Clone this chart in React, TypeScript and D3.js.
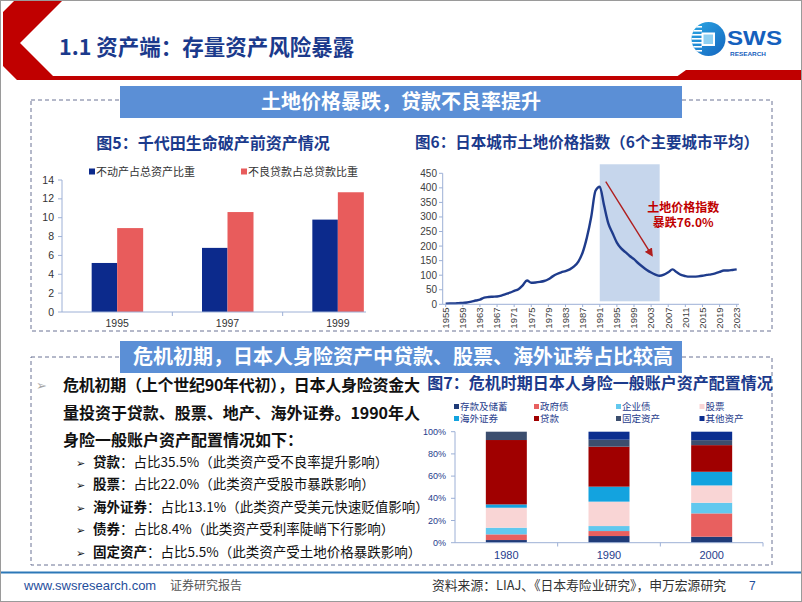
import React from 'react';
import * as d3 from 'd3';

const LAT = "'Liberation Sans', Arial, 'Noto Sans CJK SC', sans-serif";
const CJK = "'Noto Sans CJK SC', 'Liberation Sans', sans-serif";
const TITLE_BLUE = '#1B3A8C';
const AXIS = '#9DB0D6';
const DASH = '#6B7394';

// ---------- header texts ----------
const headerTitle = '1.1 资产端：存量资产风险暴露';
const banner1 = '土地价格暴跌，贷款不良率提升';
const banner2 = '危机初期，日本人身险资产中贷款、股票、海外证券占比较高';

// ---------- chart 5 ----------
const c5Title = '图5：千代田生命破产前资产情况';
const c5Years = ['1995', '1997', '1999'];
const c5RealEstate = [5.2, 6.8, 9.8];
const c5NPL = [8.9, 10.6, 12.7];
const c5Ticks = [0, 2, 4, 6, 8, 10, 12, 14];
const c5Names = ['不动产占总资产比重', '不良贷款占总贷款比重'];
const c5Colors = ['#0C2A8C', '#E85C5C'];

// ---------- chart 6 ----------
const c6Title = '图6：日本城市土地价格指数（6个主要城市平均）';
const c6Years = [
  1955, 1956, 1957, 1958, 1959, 1960, 1961, 1962, 1963, 1964,
  1965, 1966, 1967, 1968, 1969, 1970, 1971, 1972, 1973, 1974,
  1975, 1976, 1977, 1978, 1979, 1980, 1981, 1982, 1983, 1984,
  1985, 1986, 1987, 1988, 1989, 1990, 1991, 1992, 1993, 1994,
  1995, 1996, 1997, 1998, 1999, 2000, 2001, 2002, 2003, 2004,
  2005, 2006, 2007, 2008, 2009, 2010, 2011, 2012, 2013, 2014,
  2015, 2016, 2017, 2018, 2019, 2020, 2021, 2022, 2023,
];
const c6Index = [
  2, 3, 3, 4, 5, 6, 9, 13, 16, 23,
  25, 26, 27, 30, 35, 40, 46, 52, 65, 82,
  74, 75, 77, 80, 86, 96, 104, 110, 114, 120,
  130, 147, 178, 230, 300, 390, 404, 340, 278, 244,
  212, 192, 179, 166, 155, 141, 129, 118, 109, 102,
  98, 102, 110, 120, 110, 101, 97, 95, 95, 96,
  98, 101, 103, 106, 111, 116, 116, 118, 120,
];
const c6YTicks = [0, 50, 100, 150, 200, 250, 300, 350, 400, 450];
const c6LabelYears = [1955, 1959, 1963, 1967, 1971, 1975, 1979, 1983, 1987, 1991, 1995, 1999, 2003, 2007, 2011, 2015, 2019, 2023];
const c6Shade = [1991, 2005];
const c6Note = ['土地价格指数', '暴跌76.0%'];

// ---------- chart 7 ----------
const c7Title = '图7：危机时期日本人身险一般账户资产配置情况';
const c7Years = ['1980', '1990', '2000'];
const c7Keys = ['存款及储蓄', '政府债', '企业债', '股票', '海外证券', '贷款', '固定资产', '其他资产'];
const c7Deposit = [2.4, 6.0, 5.4];
const c7GovBond = [5.1, 4.5, 21.0];
const c7CorpBond = [6.0, 4.5, 9.6];
const c7Stock = [18.0, 22.0, 15.6];
const c7Foreign = [3.0, 13.5, 12.3];
const c7Loan = [58.0, 36.0, 24.0];
const c7Fixed = [7.5, 6.3, 4.5];
const c7Other = [0, 7.2, 7.6];
const c7Colors = ['#1F3B78', '#E8605F', '#62C8EE', '#F9D5D5', '#13A3DF', '#A00000', '#3C4E6E', '#0B2E8F'];
const c7Ticks = [0, 20, 40, 60, 80, 100];
const c7TickLabels = ['0%', '20%', '40%', '60%', '80%', '100%'];

// ---------- left text ----------
const introLines = [
  '危机初期（上个世纪90年代初），日本人身险资金大',
  '量投资于贷款、股票、地产、海外证券。1990年人',
  '身险一般账户资产配置情况如下：',
];
const subLabels = ['贷款', '股票', '海外证券', '债券', '固定资产'];
const subTexts = [
  '：占比35.5%（此类资产受不良率提升影响）',
  '：占比22.0%（此类资产受股市暴跌影响）',
  '：占比13.1%（此类资产受美元快速贬值影响）',
  '：占比8.4%（此类资产受利率陡峭下行影响）',
  '：占比5.5%（此类资产受土地价格暴跌影响）',
];

const footerLeft = 'www.swsresearch.com';
const footerLeft2 = '证券研究报告';
const footerSource = '资料来源：LIAJ、《日本寿险业研究》，申万宏源研究';
const pageNo = '7';

export default function App() {
  // chart 5 scales
  const x5 = d3.scaleBand<string>().domain(c5Years).range([62, 393]);
  const y5 = d3.scaleLinear().domain([0, 14]).range([312, 180]);
  const bw5 = 26;

  // chart 6 scales
  const x6 = d3.scaleLinear().domain([1955, 2023]).range([445.7, 736.7]);
  const y6 = d3.scaleLinear().domain([0, 450]).range([304.3, 173.3]);
  const line6 = d3
    .line<number>()
    .x((_, i) => x6(c6Years[i]))
    .y((d) => y6(d))
    .curve(d3.curveMonotoneX);

  // chart 7 scales
  const x7 = d3.scaleBand<string>().domain(c7Years).range([455, 763]);
  const y7 = d3.scaleLinear().domain([0, 100]).range([542.7, 431.7]);
  const series7 = [c7Deposit, c7GovBond, c7CorpBond, c7Stock, c7Foreign, c7Loan, c7Fixed, c7Other];
  const rows7 = c7Years.map((yr, i) => {
    const r: any = { year: yr };
    c7Keys.forEach((k, j) => (r[k] = series7[j][i]));
    return r;
  });
  const stack7 = d3.stack<any>().keys(c7Keys)(rows7);
  const bw7 = 41;

  const arrowFrom = [1992.4, 421];
  const arrowTo = [2003.2, 168];

  return (
    <svg width={802} height={602} style={{ position: 'absolute', left: 0, top: 0, background: '#fff' }}>
      <defs>
        <linearGradient id="logoGrad" x1="0" y1="0" x2="1" y2="1">
          <stop offset="0%" stopColor="#2AA7E3" />
          <stop offset="100%" stopColor="#1565C0" />
        </linearGradient>
        <marker id="arrowHead" viewBox="0 0 10 10" refX="8" refY="5" markerWidth="6" markerHeight="6" orient="auto">
          <path d="M0,0 L10,5 L0,10 z" fill="#B01E1E" />
        </marker>
        <clipPath id="logoClip">
          <circle cx={708.5} cy={39} r={17} />
        </clipPath>
      </defs>
      <rect x={0} y={0} width={802} height={602} fill="#fff" />

      {/* header */}
      <polygon points="15,0 63,0 20,43 53,76 802,76 802,80 17,80 3,66 3,12" fill="#C00000" />
      <polygon points="672,80 686,70 802,70 802,80" fill="#C00000" />
      <text x={59} y={55} fontFamily={CJK} fontWeight={700} fontSize={21.5} fill={TITLE_BLUE}>
        {headerTitle}
      </text>

      {/* logo */}
      <circle cx={708.5} cy={39} r={17} fill="url(#logoGrad)" />
      <g clipPath="url(#logoClip)" fill="#fff">
        {[26, 30, 34, 38, 42, 46, 50].map((yy) => (
          <rect key={yy} x={690} y={yy} width={12} height={1.6} />
        ))}
        <rect x={701.5} y={32.5} width={13.5} height={13.5} />
        <rect x={703.5} y={34.5} width={9.5} height={9.5} fill="#8FD0F2" />
      </g>
      <text x={727} y={45} fontFamily={LAT} fontWeight={700} fontSize={20} fill="#1560BD" textLength={55} lengthAdjust="spacingAndGlyphs">
        SWS
      </text>
      <text x={730} y={55.5} fontFamily={LAT} fontWeight={700} fontSize={6} fill="#1560BD" textLength={36} lengthAdjust="spacingAndGlyphs">
        RESEARCH
      </text>

      {/* dashed boxes */}
      <rect x={31} y={100} width={741} height={231} fill="none" stroke={DASH} strokeDasharray="4 3" strokeWidth={1} />
      <rect x={31} y={357} width={741} height={208} fill="none" stroke={DASH} strokeDasharray="4 3" strokeWidth={1} />

      {/* banners */}
      <rect x={120} y={86} width={562} height={32} fill="#5B8FD6" />
      <text x={401} y={109} textAnchor="middle" fontFamily={CJK} fontWeight={700} fontSize={20} fill="#fff">
        {banner1}
      </text>
      <rect x={120} y={341} width={562} height={32} fill="#5B8FD6" />
      <text x={403} y={364} textAnchor="middle" fontFamily={CJK} fontWeight={700} fontSize={20} fill="#fff">
        {banner2}
      </text>

      {/* ---------- chart 5 ---------- */}
      <text x={213} y={149} textAnchor="middle" fontFamily={CJK} fontWeight={700} fontSize={16} fill={TITLE_BLUE}>
        {c5Title}
      </text>
      {c5Names.map((n, i) => (
        <g key={n}>
          <rect x={i === 0 ? 89 : 241} y={168.5} width={6} height={6} fill={c5Colors[i]} />
          <text x={i === 0 ? 96 : 248} y={176} fontFamily={CJK} fontSize={11} fill="#333">
            {n}
          </text>
        </g>
      ))}
      {c5Years.map((yr, i) => {
        const cx = (x5(yr) as number) + x5.bandwidth() / 2;
        return (
          <g key={yr}>
            <rect x={cx - bw5 + 0.5} y={y5(c5RealEstate[i])} width={bw5 - 0.5} height={y5(0) - y5(c5RealEstate[i])} fill={c5Colors[0]} />
            <rect x={cx} y={y5(c5NPL[i])} width={bw5} height={y5(0) - y5(c5NPL[i])} fill={c5Colors[1]} />
            <text x={cx} y={327} textAnchor="middle" fontFamily={LAT} fontSize={10.5} fill="#333">
              {yr}
            </text>
          </g>
        );
      })}
      <line x1={62} x2={62} y1={180} y2={312} stroke={AXIS} />
      <line x1={62} x2={366} y1={312} y2={312} stroke={AXIS} />
      {c5Years.slice(1).map((yr) => (
        <line key={yr} x1={x5(yr)} x2={x5(yr)} y1={312} y2={316} stroke={AXIS} />
      ))}
      {c5Ticks.map((t) => (
        <g key={t}>
          <line x1={58} x2={62} y1={y5(t)} y2={y5(t)} stroke={AXIS} />
          <text x={54} y={y5(t) + 3.6} textAnchor="end" fontFamily={LAT} fontSize={10.5} fill="#333">
            {t}
          </text>
        </g>
      ))}

      {/* ---------- chart 6 ---------- */}
      <text x={587} y={147.5} textAnchor="middle" fontFamily={CJK} fontWeight={700} fontSize={15.5} fill={TITLE_BLUE}>
        {c6Title}
      </text>
      <rect x={x6(c6Shade[0])} y={y6(481)} width={x6(c6Shade[1]) - x6(c6Shade[0])} height={y6(0) - y6(481) - 3} fill="#C6D6EC" />
      <path d={line6(c6Index) || ''} fill="none" stroke="#1F3C8C" strokeWidth={2.4} strokeLinejoin="round" />
      <line x1={442.7} x2={442.7} y1={173.3} y2={304.3} stroke={AXIS} />
      <line x1={442.7} x2={739} y1={304.3} y2={304.3} stroke={AXIS} />
      {c6YTicks.map((t) => (
        <g key={t}>
          <line x1={439} x2={442.7} y1={y6(t)} y2={y6(t)} stroke={AXIS} />
          <text x={437} y={y6(t) + 3.5} textAnchor="end" fontFamily={LAT} fontSize={10} fill="#404040">
            {t}
          </text>
        </g>
      ))}
      {c6LabelYears.map((yr) => (
        <g key={yr}>
          <line x1={x6(yr)} x2={x6(yr)} y1={304.3} y2={307} stroke={AXIS} />
          <text
            transform={`translate(${x6(yr)},307.5) rotate(-90)`}
            dy="0.35em"
            textAnchor="end"
            fontFamily={LAT}
            fontSize={9.5}
            fill="#404040"
          >
            {yr}
          </text>
        </g>
      ))}
      <line
        x1={x6(arrowFrom[0])}
        y1={y6(arrowFrom[1])}
        x2={x6(arrowTo[0])}
        y2={y6(arrowTo[1])}
        stroke="#B01E1E"
        strokeWidth={1.4}
        markerEnd="url(#arrowHead)"
      />
      <text x={x6(2010.5)} y={y6(316)} textAnchor="middle" fontFamily={CJK} fontWeight={700} fontSize={12} fill="#C00000">
        {c6Note[0]}
      </text>
      <text x={x6(2010.5)} y={y6(267)} textAnchor="middle" fontFamily={CJK} fontWeight={700} fontSize={12} fill="#C00000">
        {c6Note[1]}
      </text>

      {/* ---------- left text ---------- */}
      <text x={36} y={390} fontFamily="'DejaVu Sans', sans-serif" fontSize={13} fill="#A6A6A6">
        ➢
      </text>
      {introLines.map((l, i) => (
        <text
          key={i}
          x={63}
          y={391 + i * 27.5}
          fontFamily={CJK}
          fontWeight={700}
          fontSize={16}
          fill="#111"
          {...(i < 2 ? { textLength: 357, lengthAdjust: 'spacing' } : {})}
        >
          {l}
        </text>
      ))}
      {subLabels.map((lab, i) => (
        <g key={lab}>
          <text x={76} y={466.5 + i * 22.5} fontFamily="'DejaVu Sans', sans-serif" fontSize={11} fill="#111">
            ➢
          </text>
          <text x={93} y={466.5 + i * 22.5} fontFamily={CJK} fontSize={13.5} fill="#111">
            <tspan fontWeight={700}>{lab}</tspan>
            <tspan>{subTexts[i]}</tspan>
          </text>
        </g>
      ))}

      {/* ---------- chart 7 ---------- */}
      <text x={600} y={389} textAnchor="middle" fontFamily={CJK} fontWeight={700} fontSize={16} fill={TITLE_BLUE}>
        {c7Title}
      </text>
      {c7Keys.map((k, i) => {
        const col = i % 4;
        const row = Math.floor(i / 4);
        const lx = [455, 535, 617, 700.5][col];
        const ly = 406.5 + row * 12;
        return (
          <g key={k}>
            <rect x={lx - 1} y={ly - 2.5} width={5} height={5} fill={c7Colors[i]} />
            <text x={lx + 5} y={ly + 3.4} fontFamily={CJK} fontSize={9.5} fill="#1F3C8C">
              {k}
            </text>
          </g>
        );
      })}
      {stack7.map((s, j) => (
        <g key={s.key} fill={c7Colors[j]}>
          {s.map((d, i) => {
            const cx = (x7(c7Years[i]) as number) + x7.bandwidth() / 2;
            const h = y7(d[0]) - y7(d[1]);
            return h > 0 ? <rect key={i} x={cx - bw7 / 2} y={y7(d[1])} width={bw7} height={h} /> : null;
          })}
        </g>
      ))}
      <line x1={455} x2={455} y1={431.7} y2={542.7} stroke={AXIS} />
      <line x1={455} x2={763} y1={542.7} y2={542.7} stroke={AXIS} />
      {c7Ticks.map((t, i) => (
        <g key={t}>
          <line x1={451} x2={455} y1={y7(t)} y2={y7(t)} stroke={AXIS} />
          <text x={446} y={y7(t) + 3} textAnchor="end" fontFamily={LAT} fontSize={9} fill="#1F3C8C">
            {c7TickLabels[i]}
          </text>
        </g>
      ))}
      {c7Years.map((yr, i) => (
        <g key={yr}>
          <line x1={(x7(yr) as number) + x7.bandwidth()} x2={(x7(yr) as number) + x7.bandwidth()} y1={542.7} y2={546.5} stroke={AXIS} />
          <text x={(x7(yr) as number) + x7.bandwidth() / 2} y={559} textAnchor="middle" fontFamily={LAT} fontSize={11} fill="#1F3C8C">
            {yr}
          </text>
        </g>
      ))}

      {/* footer */}
      <rect x={0} y={571.5} width={802} height={2} fill="#2C78B8" />
      <text x={24} y={590} fontFamily={LAT} fontSize={13} fill="#1F4E9C">
        {footerLeft}
      </text>
      <text x={170} y={590} fontFamily={CJK} fontSize={12} fill="#555">
        {footerLeft2}
      </text>
      <text x={432} y={590} fontFamily={CJK} fontSize={13} fill="#333" textLength={294} lengthAdjust="spacingAndGlyphs">
        {footerSource}
      </text>
      <text x={749} y={590} fontFamily={LAT} fontSize={12} fill="#1F4E9C">
        {pageNo}
      </text>

      <rect x={0.5} y={0.5} width={801} height={601} fill="none" stroke="#9A9A9A" />
    </svg>
  );
}
